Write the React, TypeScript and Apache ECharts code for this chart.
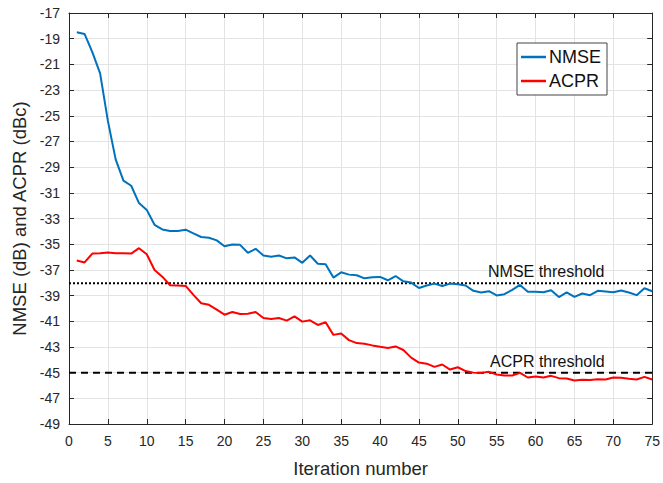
import React, { useEffect, useRef } from "react";
import * as echarts from "echarts";

const iterations = Array.from({ length: 75 }, (_, i) => i + 1);

const nmse = [
  -18.5, -18.63, -20.05, -21.7, -25.4, -28.4, -30.05, -30.45, -31.8, -32.33,
  -33.49, -33.85, -33.97, -33.97, -33.87, -34.16, -34.44, -34.5, -34.7, -35.16,
  -35.03, -35.05, -35.67, -35.36, -35.88, -35.98, -35.88, -36.1, -36.03, -36.45,
  -35.88, -36.52, -36.57, -37.6, -37.19, -37.37, -37.42, -37.66, -37.58, -37.55,
  -37.81, -37.48, -37.89, -37.99, -38.41, -38.22, -38.07, -38.25, -38.07, -38.12,
  -38.22, -38.63, -38.76, -38.66, -38.99, -38.89, -38.56, -38.17, -38.71, -38.71,
  -38.74, -38.58, -39.12, -38.76, -39.1, -38.84, -38.97, -38.63, -38.68, -38.74,
  -38.6, -38.76, -38.97, -38.43, -38.66,
];

const acpr = [
  -36.27, -36.42, -35.73, -35.7, -35.65, -35.7, -35.7, -35.73, -35.31, -35.78,
  -37.01, -37.53, -38.2, -38.22, -38.25, -38.95, -39.6, -39.72, -40.1, -40.49,
  -40.28, -40.44, -40.41, -40.28, -40.75, -40.82, -40.75, -40.95, -40.62, -41.03,
  -40.93, -41.29, -41.08, -42.06, -41.96, -42.47, -42.7, -42.75, -42.88, -42.99,
  -43.09, -42.96, -43.24, -43.83, -44.22, -44.3, -44.55, -44.37, -44.76, -44.58,
  -44.88, -45.0, -45.02, -44.94, -45.15, -45.22, -45.22, -45.02, -45.38, -45.3,
  -45.38, -45.25, -45.43, -45.46, -45.61, -45.56, -45.58, -45.51, -45.53, -45.38,
  -45.4, -45.48, -45.53, -45.33, -45.53,
];

const nmseThreshold = -38.05;
const acprThreshold = -45.0;
const xRange = [0, 75];
const yRange = [-49, -17];

const FONT = "'Liberation Sans', Arial, Helvetica, sans-serif";
const AXIS_COLOR = "#262626";
const GRID_COLOR = "#e3e3e3";

export default function App() {
  const ref = useRef<HTMLDivElement>(null);

  useEffect(() => {
    document.body.style.margin = "0";
    if (!ref.current) return;
    const chart = echarts.init(ref.current, undefined, { renderer: "svg" });

    const axisLine = { show: true, onZero: false, lineStyle: { color: AXIS_COLOR, width: 1 } };
    const axisTick = { show: true, inside: true, length: 5, lineStyle: { color: AXIS_COLOR } };

    chart.setOption({
      animation: false,
      backgroundColor: "#ffffff",
      textStyle: { fontFamily: FONT },
      grid: { left: 69, right: 9, top: 13, bottom: 56, containLabel: false },
      legend: {
        data: ["NMSE", "ACPR"],
        orient: "vertical",
        left: 517,
        top: 43,
        backgroundColor: "#ffffff",
        borderColor: "#444444",
        borderWidth: 1,
        borderRadius: 0,
        padding: [5, 6, 5, 4],
        itemGap: 6,
        itemWidth: 25,
        itemHeight: 2.5,
        icon: "rect",
        textStyle: { fontSize: 18, color: "#111111", fontFamily: FONT, padding: [0, 0, 0, -2] },
      },
      xAxis: [
        {
          type: "value",
          position: "bottom",
          min: xRange[0],
          max: xRange[1],
          interval: 5,
          axisLine,
          axisTick,
          axisLabel: { fontSize: 14, color: AXIS_COLOR, margin: 10, fontFamily: FONT },
          splitLine: { show: true, lineStyle: { color: GRID_COLOR, width: 1 } },
          name: "Iteration number",
          nameLocation: "middle",
          nameGap: 35,
          nameTextStyle: { fontSize: 18.5, color: AXIS_COLOR, fontFamily: FONT },
        },
        {
          type: "value",
          position: "top",
          min: xRange[0],
          max: xRange[1],
          interval: 5,
          axisLine,
          axisTick,
          axisLabel: { show: false },
          splitLine: { show: false },
        },
      ],
      yAxis: [
        {
          type: "value",
          position: "left",
          min: yRange[0],
          max: yRange[1],
          interval: 2,
          axisLine,
          axisTick,
          axisLabel: { fontSize: 14, color: AXIS_COLOR, margin: 9, fontFamily: FONT },
          splitLine: { show: true, lineStyle: { color: GRID_COLOR, width: 1 } },
          name: "NMSE (dB) and ACPR (dBc)",
          nameLocation: "middle",
          nameGap: 40,
          nameTextStyle: { fontSize: 18.5, color: AXIS_COLOR, fontFamily: FONT },
        },
        {
          type: "value",
          position: "right",
          min: yRange[0],
          max: yRange[1],
          interval: 2,
          axisLine,
          axisTick,
          axisLabel: { show: false },
          splitLine: { show: false },
        },
      ],
      series: [
        {
          name: "NMSE threshold",
          type: "line",
          data: [
            [xRange[0], nmseThreshold],
            [xRange[1], nmseThreshold],
          ],
          symbol: "none",
          lineStyle: { color: "#000000", width: 2, type: [2, 2] },
          silent: true,
          z: 3,
        },
        {
          name: "ACPR threshold",
          type: "line",
          data: [
            [xRange[0], acprThreshold],
            [xRange[1], acprThreshold],
          ],
          symbol: "none",
          lineStyle: { color: "#000000", width: 2, type: [7, 5] },
          silent: true,
          z: 3,
        },
        {
          name: "NMSE",
          type: "line",
          data: iterations.map((x, i) => [x, nmse[i]]),
          symbol: "none",
          itemStyle: { color: "#0072BD" },
          lineStyle: { color: "#0072BD", width: 2 },
          z: 4,
        },
        {
          name: "ACPR",
          type: "line",
          data: iterations.map((x, i) => [x, acpr[i]]),
          symbol: "none",
          itemStyle: { color: "#FF0000" },
          lineStyle: { color: "#FF0000", width: 2 },
          z: 4,
        },
      ],
      graphic: [
        {
          type: "text",
          left: 488,
          top: 263,
          z: 10,
          style: { text: "NMSE threshold", fontSize: 16, fill: "#111111", fontFamily: FONT },
        },
        {
          type: "text",
          left: 490,
          top: 353,
          z: 10,
          style: { text: "ACPR threshold", fontSize: 16, fill: "#111111", fontFamily: FONT },
        },
      ],
    });

    return () => chart.dispose();
  }, []);

  return <div ref={ref} style={{ width: 663, height: 483 }} />;
}
